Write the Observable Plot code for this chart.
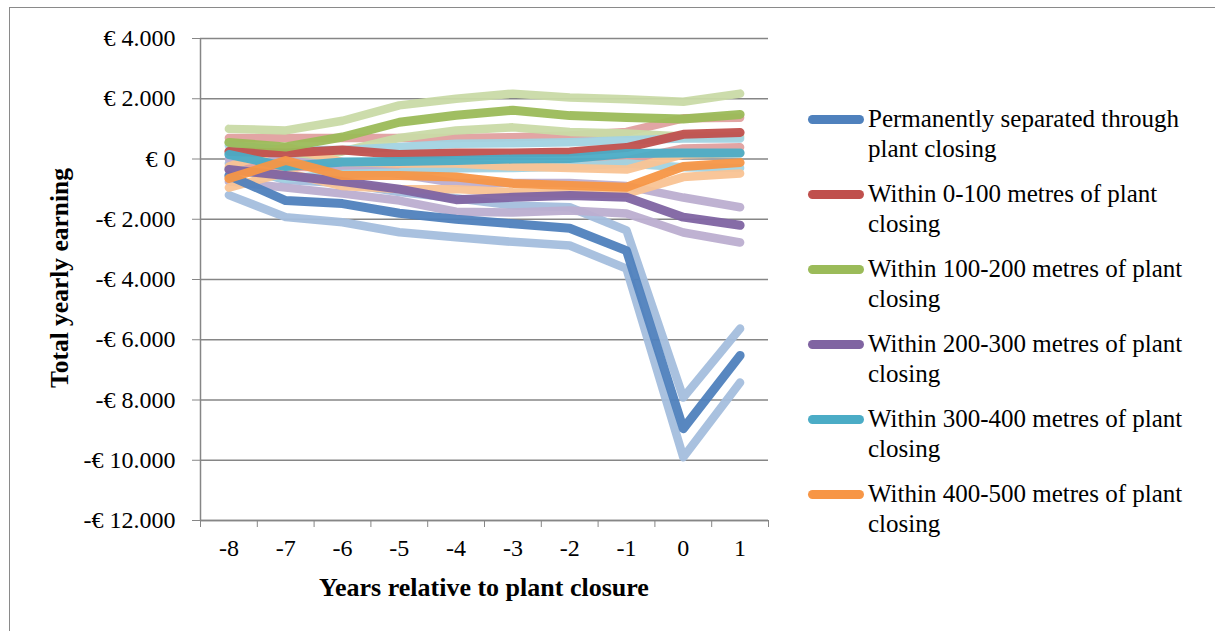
<!DOCTYPE html>
<html><head><meta charset="utf-8">
<script src="https://cdn.jsdelivr.net/npm/d3@7"></script>
<script src="https://cdn.jsdelivr.net/npm/@observablehq/plot@0.6"></script>
<style>
body{margin:0;background:#fff;font-family:"Liberation Serif",serif;color:#000;}
#frame{position:absolute;left:9px;top:7px;width:1220px;height:640px;border:1px solid #8a8a8a;box-sizing:border-box;}
#chart{position:absolute;left:0;top:0;}
#ytitle{position:absolute;left:60px;top:278px;transform:translate(-50%,-50%) rotate(-90deg);font-weight:bold;font-size:25.5px;white-space:nowrap;}
#xtitle{position:absolute;left:484px;top:588px;transform:translate(-50%,-50%);font-weight:bold;font-size:26px;white-space:nowrap;}
#legend{position:absolute;left:806px;top:104px;font-size:25px;line-height:30px;}
.item{position:relative;padding-left:62px;margin-bottom:15px;width:340px;}
.sw{position:absolute;left:2px;top:11px;width:56px;height:9px;border-radius:5px;}
</style></head>
<body>
<div id="frame"></div>
<div id="chart"></div>
<div id="ytitle">Total yearly earning</div>
<div id="xtitle">Years relative to plant closure</div>
<div id="legend"></div>
<script>
const years = [-8,-7,-6,-5,-4,-3,-2,-1,0,1];
const seriesNames = [
  "Permanently separated through plant closing",
  "Within 0-100 metres of plant closing",
  "Within 100-200 metres of plant closing",
  "Within 200-300 metres of plant closing",
  "Within 300-400 metres of plant closing",
  "Within 400-500 metres of plant closing"
];
const mainColors = ["#4F81BD","#C0504D","#9BBB59","#8064A2","#4BACC6","#F79646"];
const bandColors = ["#A4BEDD","#E0A09F","#C9DAA6","#BCAED0","#A2D3E1","#F9C393"];
const yTicks = [4000,2000,0,-2000,-4000,-6000,-8000,-10000,-12000];

// main estimates
const separated    = [-550,-1380,-1480,-1800,-2000,-2150,-2300,-3040,-8950,-6520];
const within0_100  = [250,200,300,150,200,200,230,380,820,880];
const within100_200= [550,400,730,1220,1450,1620,1440,1380,1330,1480];
const within200_300= [-350,-550,-750,-1000,-1350,-1270,-1210,-1270,-1930,-2200];
const within300_400= [150,-250,-100,-80,-50,0,20,180,200,200];
const within400_500= [-650,-50,-550,-550,-600,-810,-880,-940,-250,-120];
// upper band estimates
const separatedHi    = [-150,-700,-800,-1100,-1300,-1540,-1600,-2370,-7920,-5630];
const within0_100Hi  = [700,700,700,700,700,720,780,900,1350,1370];
const within100_200Hi= [1000,950,1270,1780,2000,2170,2040,1980,1900,2170];
const within200_300Hi= [0,-50,-250,-500,-800,-800,-800,-900,-1280,-1600];
const within300_400Hi= [450,300,300,400,510,520,560,620,680,680];
const within400_500Hi= [-250,400,-100,-150,-150,-250,-300,-350,150,200];
// lower band estimates
const separatedLo    = [-1200,-1930,-2100,-2430,-2600,-2750,-2870,-3640,-9900,-7420];
const within0_100Lo  = [-350,-250,-300,-350,-300,-250,-200,-50,350,390];
const within100_200Lo= [550,-50,250,700,950,1050,900,850,750,750];
const within200_300Lo= [-750,-950,-1150,-1380,-1750,-1780,-1710,-1810,-2440,-2770];
const within300_400Lo= [-300,-650,-500,-450,-310,-300,-250,-150,-270,-300];
const within400_500Lo= [-950,-450,-900,-1000,-1000,-1100,-1150,-1150,-600,-480];

const mains = [separated,within0_100,within100_200,within200_300,within300_400,within400_500];
const his = [separatedHi,within0_100Hi,within100_200Hi,within200_300Hi,within300_400Hi,within400_500Hi];
const los = [separatedLo,within0_100Lo,within100_200Lo,within200_300Lo,within300_400Lo,within400_500Lo];

const toRows = arr => years.map((x,i)=>({x, y: arr[i]}));
const fmt = v => (v<0?"-":"") + "€ " + d3.format(",")(Math.abs(v)).replace(/,/g,".");
const edges = d3.range(-8.5, 2, 1);

const bandMarks = [];
seriesNames.forEach((s,k)=>{
  bandMarks.push(Plot.line(toRows(his[k]), {x:"x", y:"y", stroke: bandColors[k], strokeWidth:8.5, strokeOpacity:0.95, strokeLinecap:"round", strokeLinejoin:"round"}));
  bandMarks.push(Plot.line(toRows(los[k]), {x:"x", y:"y", stroke: bandColors[k], strokeWidth:8.5, strokeOpacity:0.95, strokeLinecap:"round", strokeLinejoin:"round"}));
});
const mainMarks = seriesNames.map((s,k)=>Plot.line(toRows(mains[k]), {x:"x", y:"y", stroke: mainColors[k], strokeWidth:9, strokeOpacity:0.95, strokeLinecap:"round", strokeLinejoin:"round"}));

const chart = Plot.plot({
  width: 780, height: 610,
  marginLeft: 200, marginRight: 12, marginTop: 38, marginBottom: 90,
  style: {fontFamily: "'Liberation Serif', serif", fontSize: "24px", color: "#000", background: "transparent"},
  x: {domain: [-8.5, 1.5]},
  y: {domain: [-12000, 4000]},
  marks: [
    Plot.gridY(yTicks, {stroke: "#868686", strokeOpacity: 1, strokeWidth: 1.5}),
    Plot.axisY(yTicks, {tickFormat: fmt, tickSize: 8, tickPadding: 17, stroke: "#868686", label: null, fontSize: 24}),
    Plot.axisX(edges, {tickFormat: () => "", tickSize: 7, stroke: "#868686", label: null}),
    Plot.axisX(years, {tickFormat: d => String(d), tickSize: 0, tickPadding: 18, label: null, fontSize: 24}),
    Plot.ruleX([-8.5], {stroke: "#868686", strokeWidth: 1.5}),
    Plot.ruleY([-12000], {stroke: "#868686", strokeWidth: 1.5}),
    ...bandMarks,
    ...mainMarks
  ]
});
document.getElementById("chart").appendChild(chart);

const legend = document.getElementById("legend");
seriesNames.forEach((s,k)=>{
  const d = document.createElement("div");
  d.className = "item";
  d.innerHTML = `<span class="sw" style="background:${mainColors[k]}"></span>${s}`;
  legend.appendChild(d);
});
</script>
</body></html>
